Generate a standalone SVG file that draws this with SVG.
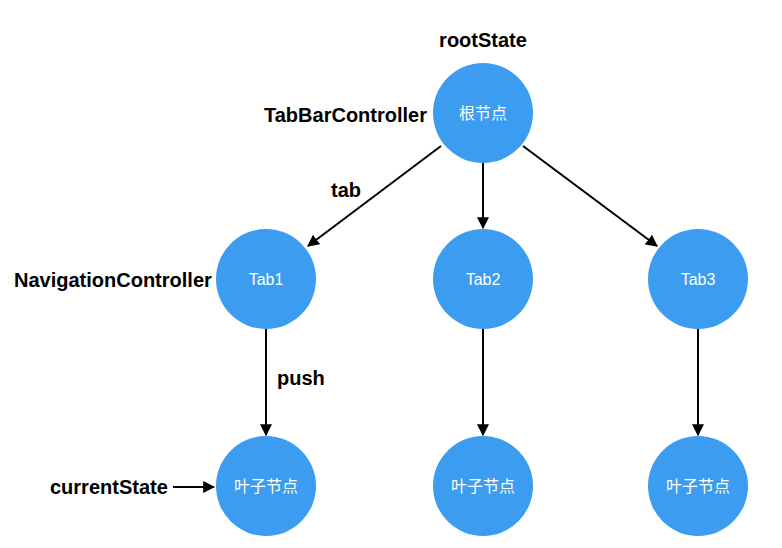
<svg xmlns="http://www.w3.org/2000/svg" width="782" height="548" viewBox="0 0 782 548">
<style>
.node{fill:#3b9cf0;}
.in{font-family:"Liberation Sans","Noto Sans CJK SC",sans-serif;font-size:16px;fill:#fff;text-anchor:middle;}
.lbl{font-family:"Liberation Sans","Noto Sans CJK SC",sans-serif;font-size:20px;font-weight:bold;fill:#000;}
.edge{stroke:#000;stroke-width:2;fill:none;marker-end:url(#ah);}
</style>
<defs>
<marker id="ah" viewBox="0 0 10 10" refX="9" refY="5" markerWidth="6" markerHeight="6" markerUnits="strokeWidth" orient="auto">
<path d="M0,0 L10,5 L0,10 z" fill="#000"/>
</marker>
</defs>
<rect width="782" height="548" fill="#fff"/>
<g id="connectors">
<line class="edge" x1="441" y1="146" x2="308" y2="246"/>
<line class="edge" x1="483" y1="163" x2="483" y2="228"/>
<line class="edge" x1="523" y1="146" x2="657" y2="246"/>
<line class="edge" x1="266" y1="329" x2="266" y2="435"/>
<line class="edge" x1="483" y1="329" x2="483" y2="435"/>
<line class="edge" x1="698" y1="329" x2="698" y2="435"/>
<line class="edge" x1="173" y1="487" x2="214" y2="487"/>
</g>
<g id="root">
<circle class="node" cx="483" cy="113" r="50"/>
<text class="in" x="483" y="119">根节点</text>
</g>
<g id="tab1">
<circle class="node" cx="266" cy="279" r="50"/>
<text class="in" x="266" y="285">Tab1</text>
</g>
<g id="tab2">
<circle class="node" cx="483" cy="279" r="50"/>
<text class="in" x="483" y="285">Tab2</text>
</g>
<g id="tab3">
<circle class="node" cx="698" cy="279" r="50"/>
<text class="in" x="698" y="285">Tab3</text>
</g>
<g id="leaf1">
<circle class="node" cx="266" cy="486" r="50"/>
<text class="in" x="266" y="492">叶子节点</text>
</g>
<g id="leaf2">
<circle class="node" cx="483" cy="486" r="50"/>
<text class="in" x="483" y="492">叶子节点</text>
</g>
<g id="leaf3">
<circle class="node" cx="698" cy="486" r="50"/>
<text class="in" x="698" y="492">叶子节点</text>
</g>
<g id="labels">
<text class="lbl" x="483" y="47" text-anchor="middle">rootState</text>
<text class="lbl" x="427" y="122" text-anchor="end">TabBarController</text>
<text class="lbl" x="331" y="197">tab</text>
<text class="lbl" x="14" y="287">NavigationController</text>
<text class="lbl" x="277" y="385">push</text>
<text class="lbl" x="50" y="494">currentState</text>
</g>
</svg>
